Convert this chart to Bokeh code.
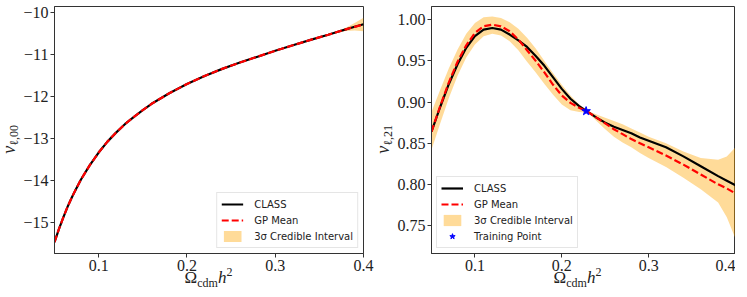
from bokeh.plotting import figure
from bokeh.layouts import row, column
from bokeh.models import Div, Spacer, Legend, LegendItem, FixedTicker, Range1d
from bokeh.embed import file_html
from bokeh.resources import INLINE

# ---------------- data ----------------
x_left = [0.05, 0.055, 0.06, 0.065, 0.07, 0.075, 0.08, 0.09, 0.10, 0.11, 0.12, 0.13,
          0.14, 0.15, 0.16, 0.18, 0.20, 0.22, 0.24, 0.26, 0.28, 0.30, 0.32, 0.34,
          0.36, 0.37, 0.38, 0.39, 0.40]
class_left = [-15.46, -15.15, -14.87, -14.61, -14.38, -14.17, -13.97, -13.63, -13.33,
              -13.07, -12.85, -12.65, -12.48, -12.32, -12.17, -11.92, -11.70, -11.51,
              -11.34, -11.19, -11.05, -10.91, -10.78, -10.65, -10.53, -10.465, -10.40,
              -10.34, -10.28]
gp_left = [-15.46, -15.15, -14.87, -14.61, -14.38, -14.17, -13.97, -13.63, -13.33,
           -13.07, -12.85, -12.65, -12.48, -12.32, -12.17, -11.92, -11.70, -11.51,
           -11.34, -11.19, -11.05, -10.91, -10.78, -10.65, -10.53, -10.465, -10.40,
           -10.34, -10.285]
band_left_half = [0.0, 0.0, 0.0, 0.0, 0.0, 0.0, 0.0, 0.0, 0.0, 0.0, 0.0, 0.0, 0.0,
                  0.0, 0.0, 0.0, 0.0, 0.0, 0.0, 0.0, 0.0, 0.0, 0.0, 0.0, 0.005, 0.015,
                  0.04, 0.09, 0.16]

x_right = [0.05, 0.06, 0.07, 0.08, 0.09, 0.10, 0.11, 0.12, 0.13, 0.14, 0.15, 0.16,
           0.17, 0.18, 0.19, 0.20, 0.21, 0.22, 0.23, 0.24, 0.25, 0.26, 0.27, 0.28,
           0.29, 0.30, 0.32, 0.34, 0.36, 0.38, 0.39, 0.40]
class_right = [0.864, 0.894, 0.922, 0.946, 0.966, 0.980, 0.988, 0.990, 0.988, 0.982,
               0.975, 0.967, 0.956, 0.944, 0.930, 0.916, 0.904, 0.895, 0.888, 0.881,
               0.875, 0.870, 0.866, 0.862, 0.857, 0.853, 0.845, 0.834, 0.822, 0.810,
               0.8045, 0.799]
gp_right = [0.864, 0.895, 0.924, 0.949, 0.969, 0.984, 0.992, 0.994, 0.992, 0.986,
            0.976, 0.963, 0.950, 0.936, 0.921, 0.908, 0.899, 0.893, 0.888, 0.881,
            0.874, 0.867, 0.861, 0.855, 0.850, 0.845, 0.835, 0.824, 0.812, 0.800,
            0.795, 0.789]
band_right_upper = [0.888, 0.915, 0.941, 0.964, 0.983, 0.996, 1.003, 1.004, 1.002,
                    0.997, 0.989, 0.978, 0.965, 0.950, 0.935, 0.921, 0.908, 0.897,
                    0.889, 0.885, 0.881, 0.877, 0.873, 0.868, 0.863, 0.858, 0.850,
                    0.840, 0.832, 0.830, 0.834, 0.845]
band_right_lower = [0.842, 0.874, 0.905, 0.932, 0.954, 0.970, 0.980, 0.983, 0.981,
                    0.974, 0.963, 0.949, 0.936, 0.922, 0.909, 0.897, 0.890, 0.888,
                    0.887, 0.877, 0.867, 0.858, 0.851, 0.845, 0.838, 0.832, 0.821,
                    0.808, 0.794, 0.778, 0.760, 0.734]

train_x = [0.228]
train_y = [0.889]

x_ticks = [0.1, 0.2, 0.3, 0.4]
x_tick_labels = ["0.1", "0.2", "0.3", "0.4"]
yl_ticks = [-15, -14, -13, -12, -11, -10]
yl_tick_labels = ["\u221215", "\u221214", "\u221213", "\u221212", "\u221211", "\u221210"]
yr_ticks = [0.75, 0.80, 0.85, 0.90, 0.95, 1.00]
yr_tick_labels = ["0.75", "0.80", "0.85", "0.90", "0.95", "1.00"]

legend_labels = ["CLASS", "GP Mean", "3\u03c3 Credible Interval", "Training Point"]
x_label_main, x_label_sub, x_label_h, x_label_sup = "\u03a9", "cdm", "h", "2"
y_label_main = "v"
y_sub_left = "\u2113,00"
y_sub_right = "\u2113,21"

SERIF = "Liberation Serif"
SANS = "DejaVu Sans"
BAND = "orange"
FIG_H = 279
YLAB_W = 20


def make_fig(width, border_left, frame_w, yr, yticks, ylabels):
    p = figure(width=width, height=FIG_H, title=None,
               x_range=Range1d(0.05, 0.4), y_range=Range1d(*yr),
               output_backend="svg", toolbar_location=None,
               min_border_left=border_left, min_border_right=width - border_left - frame_w,
               min_border_top=6, min_border_bottom=26, margin=0)
    p.xgrid.visible = False
    p.ygrid.visible = False
    p.outline_line_color = "#333333"
    p.outline_line_width = 1
    p.xaxis.ticker = FixedTicker(ticks=x_ticks)
    p.xaxis.major_label_overrides = dict(zip(x_ticks, x_tick_labels))
    p.yaxis.ticker = FixedTicker(ticks=yticks)
    p.yaxis.major_label_overrides = dict(zip(yticks, ylabels))
    for ax in (p.xaxis, p.yaxis):
        ax.axis_line_color = "#333333"
        ax.major_tick_line_color = "#333333"
        ax.major_tick_in = 0
        ax.major_tick_out = 4
        ax.minor_tick_line_color = None
        ax.major_label_text_font = SERIF
        ax.major_label_text_font_size = "16px"
        ax.major_label_text_color = "#222222"
        ax.major_label_standoff = 2
    return p


def style_legend(leg):
    leg.label_text_font = SANS
    leg.label_text_font_size = "10px"
    leg.label_text_color = "#222222"
    leg.glyph_width = 22
    leg.glyph_height = 14
    leg.label_height = 14
    leg.label_standoff = 11
    leg.spacing = 2
    leg.padding = 4
    leg.margin = 5
    leg.border_line_color = "#cccccc"
    leg.border_line_width = 1
    leg.background_fill_alpha = 0.8


def x_label_div(width):
    html = (
        f'<div style="width:{width}px; text-align:center; font-family:\'{SERIF}\',serif; '
        'font-size:17px; line-height:17px; color:#222222; white-space:nowrap;">'
        f'{x_label_main}<span style="position:relative; top:4px; font-size:12px;">'
        f'{x_label_sub}</span><i>{x_label_h}</i>'
        f'<span style="position:relative; top:-7px; font-size:12px;">{x_label_sup}</span>'
        '</div>'
    )
    return Div(text=html, width=width, height=24, margin=0)


def y_label_div(sub, width=YLAB_W):
    html = (
        f'<div style="width:{width}px; height:{FIG_H}px; display:flex; align-items:center; '
        'justify-content:center;">'
        '<div style="writing-mode:vertical-rl; text-orientation:sideways; '
        f'transform:rotate(180deg); font-family:\'{SERIF}\',serif; font-size:18px; '
        'line-height:18px; color:#222222; white-space:nowrap;">'
        f'<i>{y_label_main}</i><span style="position:relative; left:-3px; '
        f'text-orientation:sideways; font-size:12px;">{sub}</span></div></div>'
    )
    return Div(text=html, width=width, height=FIG_H, margin=0)


# ---------------- left panel ----------------
p1 = make_fig(354, 34, 309, (-15.73, -9.857), yl_ticks, yl_tick_labels)
band_l_up = [g + h for g, h in zip(gp_left, band_left_half)]
band_l_lo = [g - h for g, h in zip(gp_left, band_left_half)]
rb1 = p1.varea(x=x_left, y1=band_l_lo, y2=band_l_up, fill_color=BAND, fill_alpha=0.4)
rc1 = p1.line(x_left, class_left, line_color="black", line_width=2.2)
rg1 = p1.line(x_left, gp_left, line_color="red", line_width=2.2, line_dash="7 3")
leg1 = Legend(items=[LegendItem(label=legend_labels[0], renderers=[rc1]),
                     LegendItem(label=legend_labels[1], renderers=[rg1]),
                     LegendItem(label=legend_labels[2], renderers=[rb1])],
              location="bottom_right")
style_legend(leg1)
p1.add_layout(leg1)

# ---------------- right panel ----------------
p2 = make_fig(341, 34, 307, (0.716, 1.0161), yr_ticks, yr_tick_labels)
rb2 = p2.varea(x=x_right, y1=band_right_lower, y2=band_right_upper,
               fill_color=BAND, fill_alpha=0.4)
rc2 = p2.line(x_right, class_right, line_color="black", line_width=2.2)
rg2 = p2.line(x_right, gp_right, line_color="red", line_width=2.2, line_dash="7 3")
rt2 = p2.scatter(train_x, train_y, marker="star", size=9, fill_color="blue",
                 line_color="blue")
leg2 = Legend(items=[LegendItem(label=legend_labels[0], renderers=[rc2]),
                     LegendItem(label=legend_labels[1], renderers=[rg2]),
                     LegendItem(label=legend_labels[2], renderers=[rb2]),
                     LegendItem(label=legend_labels[3], renderers=[rt2])],
              location="bottom_left")
style_legend(leg2)
p2.add_layout(leg2)

top_row = row(y_label_div(y_sub_left), p1, y_label_div(y_sub_right), p2, margin=0)
label_row = row(Spacer(width=54, height=24, margin=0), x_label_div(309),
                Spacer(width=61, height=24, margin=0), x_label_div(307),
                margin=(-10, 0, 0, 0))
layout = column(top_row, label_row, margin=0)
open("out.html", "w").write(file_html(layout, INLINE))
